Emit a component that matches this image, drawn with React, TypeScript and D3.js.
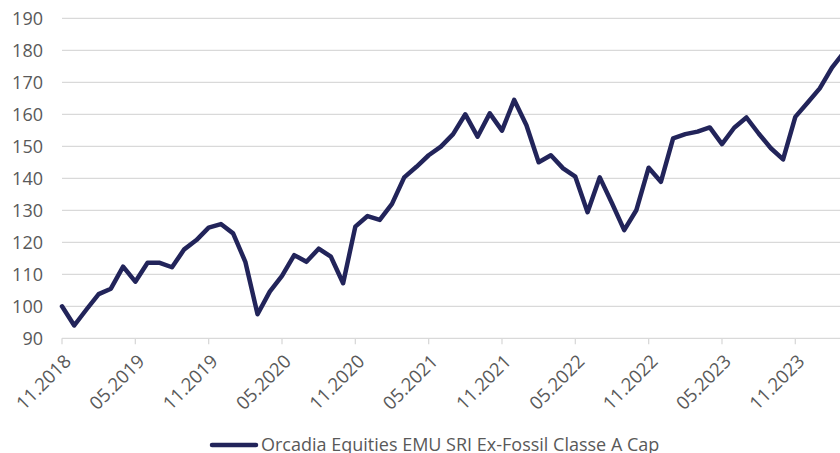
import React from "react";
import * as d3 from "d3";

const categories: string[] = [
  "11.2018","12.2018","01.2019","02.2019","03.2019","04.2019","05.2019","06.2019","07.2019","08.2019","09.2019","10.2019",
  "11.2019","12.2019","01.2020","02.2020","03.2020","04.2020","05.2020","06.2020","07.2020","08.2020","09.2020","10.2020",
  "11.2020","12.2020","01.2021","02.2021","03.2021","04.2021","05.2021","06.2021","07.2021","08.2021","09.2021","10.2021",
  "11.2021","12.2021","01.2022","02.2022","03.2022","04.2022","05.2022","06.2022","07.2022","08.2022","09.2022","10.2022",
  "11.2022","12.2022","01.2023","02.2023","03.2023","04.2023","05.2023","06.2023","07.2023","08.2023","09.2023","10.2023",
  "11.2023","12.2023","01.2024","02.2024","03.2024",
];

const values: number[] = [
  100, 94, 99, 103.8, 105.5, 112.4, 107.7, 113.6, 113.6, 112.2, 117.8, 120.7,
  124.6, 125.7, 122.8, 113.9, 97.5, 104.6, 109.5, 116, 113.9, 118, 115.5, 107.2,
  124.9, 128.2, 127, 132, 140.3, 143.6, 147.2, 149.9, 153.8, 160, 153, 160.3,
  154.9, 164.5, 156.6, 145, 147.2, 143.1, 140.5, 129.4, 140.3, 132.2, 123.8, 130.1,
  143.3, 138.9, 152.5, 153.8, 154.6, 155.9, 150.7, 155.8, 159, 154, 149.4, 145.9,
  159.2, 163.6, 168.1, 174.6, 179.5,
];

const xTickLabels: string[] = [
  "11.2018","05.2019","11.2019","05.2020","11.2020","05.2021",
  "11.2021","05.2022","11.2022","05.2023","11.2023",
];

const yTicks: number[] = [90, 100, 110, 120, 130, 140, 150, 160, 170, 180, 190];

const seriesName = "Orcadia Equities EMU SRI Ex-Fossil Classe A Cap";

const W = 840;
const H = 453;
const FONT = "'Open Sans', sans-serif";
const TEXT = "#595959";
const GRID = "#d9d9d9";
const LINE = "#22245a";

export default function App() {
  const x = d3
    .scalePoint<string>()
    .domain(categories)
    .range([62, 62 + (categories.length - 1) * 12.222]);
  const y = d3.scaleLinear().domain([90, 190]).range([338.3, 18.3]);

  const line = d3
    .line<number>()
    .x((_, i) => x(categories[i]) as number)
    .y((d) => y(d));

  return (
    <svg
      width={W}
      height={H}
      style={{ position: "absolute", left: 0, top: 0, background: "#fff" }}
      fontFamily={FONT}
    >
      {yTicks.map((t) => (
        <g key={t}>
          <line x1={62} x2={W} y1={y(t)} y2={y(t)} stroke={GRID} strokeWidth={1.3} />
          <text
            x={43}
            y={y(t)}
            textAnchor="end"
            dominantBaseline="central"
            fontSize={18}
            fill={TEXT}
          >
            {t}
          </text>
        </g>
      ))}
      {xTickLabels.map((lab) => {
        const px = x(lab) as number;
        return (
          <g key={lab}>
            <line x1={px} x2={px} y1={y(90)} y2={y(90) + 6} stroke={GRID} strokeWidth={1.3} />
            <text
              transform={`translate(${px + 5},${y(90) + 19}) rotate(-45)`}
              textAnchor="end"
              dominantBaseline="central"
              fontSize={18.5}
              fill={TEXT}
            >
              {lab}
            </text>
          </g>
        );
      })}
      <path
        d={line(values) ?? ""}
        fill="none"
        stroke={LINE}
        strokeWidth={4.5}
        strokeLinejoin="round"
        strokeLinecap="round"
      />
      <line x1={212} x2={256} y1={445} y2={445} stroke={LINE} strokeWidth={4.5} strokeLinecap="round" />
      <text x={261} y={451} fontSize={18} fill={TEXT}>
        {seriesName}
      </text>
    </svg>
  );
}
